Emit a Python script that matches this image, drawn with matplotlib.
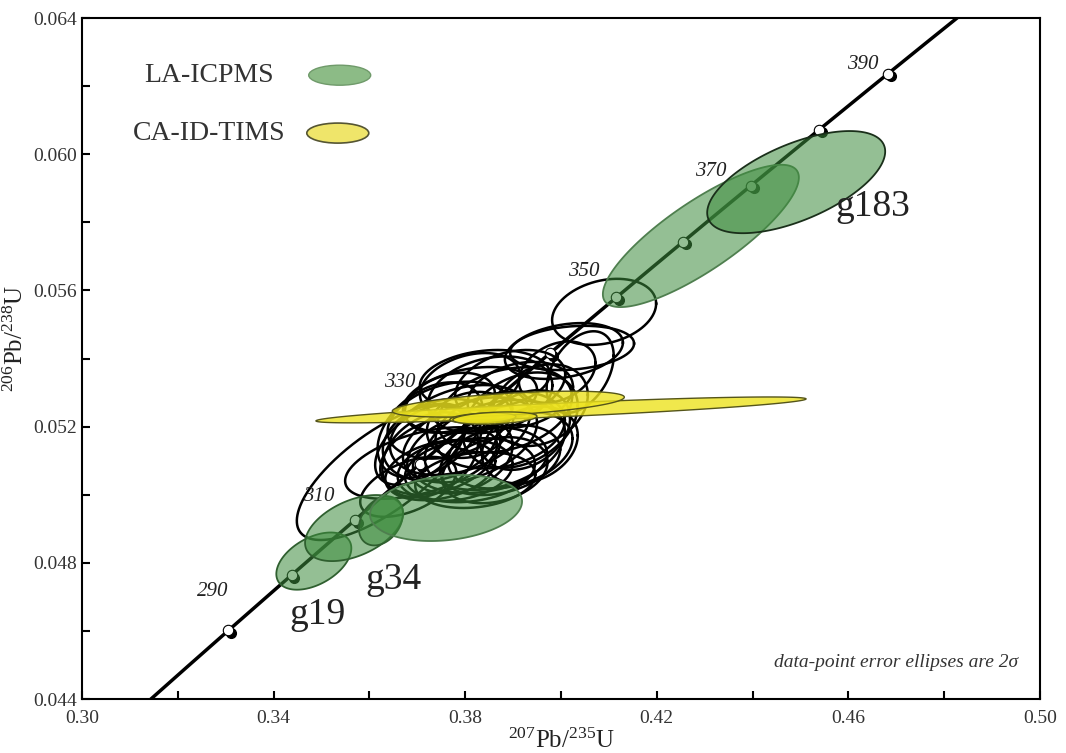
import numpy as np
import matplotlib.pyplot as plt
from matplotlib.patches import Ellipse
import matplotlib.transforms as mtransforms

plt.rcParams['font.family'] = ['Liberation Serif', 'DejaVu Serif']
plt.rcParams['mathtext.fontset'] = 'custom'
plt.rcParams['mathtext.rm'] = 'Liberation Serif'
plt.rcParams['mathtext.it'] = 'Liberation Serif:italic'

# decay constants (per Ma)
L238 = 1.55125e-4
L235 = 9.8485e-4

# concordia ticks
tick_ages = [290, 300, 310, 320, 330, 340, 350, 360, 370, 380, 390]
label_ages = [290, 310, 330, 350, 370, 390]
label_offsets = [(-16, 39), (-36, 23), (-85, 26), (-33, 26), (-40, 14), (-25, 9)]

# LA-ICPMS spots without filling: 207/235, 206/238, 2s(207/235), 2s(206/238), rho
blk_x = [0.4090, 0.4006, 0.4023, 0.3992, 0.4040, 0.3626, 0.3708, 0.3681,
         0.3810, 0.3852, 0.3883, 0.3768, 0.3748, 0.3810, 0.3873, 0.3915,
         0.3789, 0.3831, 0.3894, 0.3727, 0.3779, 0.3862, 0.3935, 0.3768,
         0.3915, 0.3810, 0.3956, 0.3727, 0.3810, 0.3841, 0.3748, 0.3821,
         0.3706, 0.3894, 0.3862, 0.3789, 0.3810, 0.3873, 0.3748, 0.3925]
blk_y = [0.05537, 0.05422, 0.05431, 0.05360, 0.05360, 0.05067, 0.05093, 0.05023,
         0.05278, 0.05293, 0.05249, 0.05219, 0.05161, 0.05161, 0.05190, 0.05219,
         0.05117, 0.05102, 0.05131, 0.05117, 0.05072, 0.05072, 0.05146, 0.05270,
         0.05293, 0.05205, 0.05263, 0.05190, 0.05322, 0.05337, 0.05072, 0.05043,
         0.05146, 0.05322, 0.05146, 0.05190, 0.05072, 0.05102, 0.05117, 0.05190]
blk_sx = [0.01086, 0.01232, 0.01295, 0.00800, 0.00700, 0.01775, 0.01587, 0.01002,
          0.01400, 0.01300, 0.01400, 0.01300, 0.01200, 0.01400, 0.01350, 0.01200,
          0.01100, 0.01400, 0.01300, 0.01000, 0.01200, 0.01100, 0.01000, 0.00940,
          0.01100, 0.00900, 0.01000, 0.01100, 0.01044, 0.01357, 0.01148, 0.01253,
          0.00940, 0.01148, 0.01462, 0.01462, 0.01357, 0.01253, 0.01253, 0.00940]
blk_sy = [0.00097, 0.00082, 0.00065, 0.00090, 0.00120, 0.00200, 0.00105, 0.00088,
          0.00097, 0.00113, 0.00125, 0.00113, 0.00120, 0.00125, 0.00113, 0.00140,
          0.00113, 0.00097, 0.00113, 0.00125, 0.00090, 0.00097, 0.00113, 0.00088,
          0.00097, 0.00097, 0.00120, 0.00140, 0.00094, 0.00088, 0.00088, 0.00082,
          0.00117, 0.00103, 0.00132, 0.00132, 0.00094, 0.00103, 0.00117, 0.00117]
blk_rho = [0.25, 0.3, 0.2, 0.3, 0.4, 0.72, 0.5, 0.5,
           0.3, 0.25, 0.3, 0.3, 0.25, 0.4, 0.25, 0.3,
           0.25, 0.2, 0.3, 0.3, 0.2, 0.25, 0.25, 0.3,
           0.25, 0.2, 0.25, 0.4, 0.3, 0.2, 0.3, 0.2,
           0.5, 0.3, 0.3, 0.35, 0.2, 0.3, 0.35, 0.3]

# LA-ICPMS grains g19, g34, g183 etc.
grn_x = [0.3484, 0.3568, 0.3624, 0.3760, 0.4292, 0.4491]
grn_y = [0.04805, 0.04902, 0.04923, 0.04961, 0.05760, 0.05918]
grn_sx = [0.00783, 0.01023, 0.00460, 0.01587, 0.02046, 0.01858]
grn_sy = [0.00084, 0.00097, 0.00072, 0.00097, 0.00209, 0.00150]
grn_rho = [0.45, 0.45, 0.3, 0.2, 0.82, 0.6]
grn_edge = ['#2f5f2f', '#2f5f2f', '#2f5f2f', '#4f7f4f', '#4f7f4f', '#1a2f1a']

# CA-ID-TIMS
yel_x = [0.4000, 0.3890, 0.3837, 0.3862]
yel_y = [0.05249, 0.05266, 0.05225, 0.05225]
yel_sx = [0.05116, 0.02422, 0.00689, 0.00877]
yel_sy = [0.00038, 0.00038, 0.00015, 0.00018]
yel_rho = [0.85, 0.54, 0.3, 0.3]


def concordia(t):
    t = np.asarray(t, dtype=float)
    return np.exp(L235 * t) - 1, np.exp(L238 * t) - 1


def ellipse_xy(cx, cy, sx, sy, rho, n=240):
    a = np.linspace(0, 2 * np.pi, n)
    x = cx + sx * np.cos(a)
    y = cy + sy * (rho * np.cos(a) + np.sqrt(1 - rho ** 2) * np.sin(a))
    return x, y


fig = plt.figure(figsize=(10.66, 7.53), dpi=100)
ax = fig.add_axes([82 / 1066, 1 - 699 / 753, 958 / 1066, 681 / 753])

# concordia curve
cx, cy = concordia(np.linspace(260, 420, 400))
ax.plot(cx, cy, color='black', lw=2.5, zorder=2, solid_capstyle='butt')

tx, ty = concordia(tick_ages)
shadow = mtransforms.offset_copy(ax.transData, fig=fig, x=2, y=-2, units='points')
ax.plot(tx, ty, 'o', color='black', ms=7, transform=shadow, zorder=3)
ax.plot(tx, ty, 'o', mfc='white', mec='black', mew=0.8, ms=7.5, zorder=3)

lx, ly = concordia(label_ages)
for age, x, y, off in zip(label_ages, lx, ly, label_offsets):
    ax.annotate(str(age), (x, y), xytext=off, textcoords='offset pixels',
                ha='center', va='center', fontsize=15, style='italic',
                color='#222222', zorder=6)

# error ellipses
for x0, y0, sx, sy, r in zip(blk_x, blk_y, blk_sx, blk_sy, blk_rho):
    ex, ey = ellipse_xy(x0, y0, sx, sy, r)
    ax.plot(np.append(ex, ex[0]), np.append(ey, ey[0]), color='black', lw=1.8, zorder=4)

for x0, y0, sx, sy, r, ec in zip(grn_x, grn_y, grn_sx, grn_sy, grn_rho, grn_edge):
    ex, ey = ellipse_xy(x0, y0, sx, sy, r)
    ax.fill(ex, ey, facecolor=(0.24, 0.55, 0.24, 0.55), edgecolor=ec, lw=1.3, zorder=5)

for x0, y0, sx, sy, r in zip(yel_x, yel_y, yel_sx, yel_sy, yel_rho):
    ex, ey = ellipse_xy(x0, y0, sx, sy, r)
    ax.fill(ex, ey, facecolor=(0.93, 0.89, 0.12, 0.8), edgecolor='#55551a', lw=1.0, zorder=5)

# grain names
ax.text(0.3491, 0.04648, 'g19', fontsize=27, ha='center', va='center', color='#222222', zorder=6)
ax.text(0.3651, 0.04751, 'g34', fontsize=27, ha='center', va='center', color='#222222', zorder=6)
ax.text(0.4650, 0.05845, 'g183', fontsize=27, ha='center', va='center', color='#222222', zorder=6)

# legend
ax.text(0.1325, 0.916, 'LA-ICPMS', transform=ax.transAxes, fontsize=20,
        ha='center', va='center', color='#333333')
ax.text(0.1325, 0.831, 'CA-ID-TIMS', transform=ax.transAxes, fontsize=20,
        ha='center', va='center', color='#333333')
ax.add_patch(Ellipse((0.269, 0.916), 0.0647, 0.0294, transform=ax.transAxes,
                     facecolor='#8cbb86', edgecolor='#6f9a6a', lw=1))
ax.add_patch(Ellipse((0.267, 0.831), 0.0647, 0.0294, transform=ax.transAxes,
                     facecolor='#efe56a', edgecolor='#555533', lw=1.2))

ax.text(0.977, 0.053, 'data-point error ellipses are 2σ', transform=ax.transAxes,
        fontsize=14, style='italic', ha='right', va='center', color='#333333')

ax.set_xlim(0.30, 0.50)
ax.set_ylim(0.044, 0.064)
ax.set_xticks([0.30, 0.34, 0.38, 0.42, 0.46, 0.50])
ax.set_xticks([0.32, 0.36, 0.40, 0.44, 0.48], minor=True)
ax.set_yticks([0.044, 0.048, 0.052, 0.056, 0.060, 0.064])
ax.set_yticks([0.046, 0.050, 0.054, 0.058, 0.062], minor=True)
ax.xaxis.set_major_formatter(plt.FormatStrFormatter('%.2f'))
ax.yaxis.set_major_formatter(plt.FormatStrFormatter('%.3f'))
ax.tick_params(which='both', direction='in', length=6, width=1.5, labelsize=14,
               labelcolor='#333333', top=False, right=False)
ax.tick_params(axis='x', pad=8)
for s in ax.spines.values():
    s.set_linewidth(1.5)

ax.set_xlabel(r'$^{207}$Pb/$^{235}$U', fontsize=18, color='#222222', labelpad=1)
ax.set_ylabel(r'$^{206}$Pb/$^{238}$U', fontsize=18, color='#222222')
ax.yaxis.set_label_coords(-0.056, 0.53)

fig.savefig('out.png', dpi=100)
